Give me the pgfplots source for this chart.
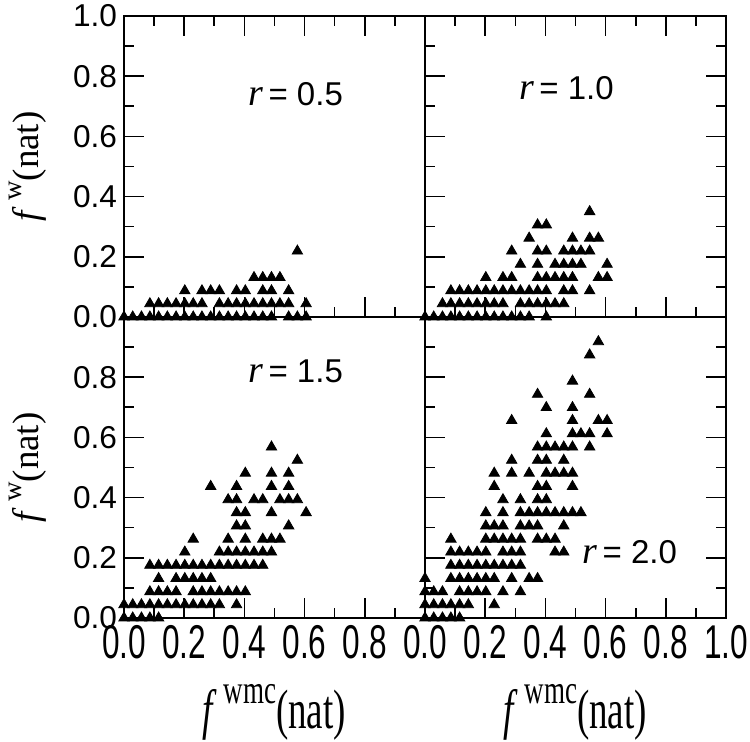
\documentclass[border=0pt]{standalone}
\usepackage{fontspec}
\setmainfont{Liberation Sans}
\newfontfamily\serif{Liberation Serif}
\usepackage{graphicx}
\usepackage{pgfplots}
\pgfplotsset{compat=1.18}
\usepgfplotslibrary{groupplots}
\newcommand\sx[1]{\scalebox{1}[1.5]{#1}}
\newcommand\rlab[1]{{\serif\itshape\fontsize{19}{19}\selectfont r}\ {\fontsize{16.5}{17}\selectfont = #1}}
\newcommand\ylab{{\serif\fontsize{18.5}{18.5}\selectfont\textit{f}\,\raisebox{0.45em}{\fontsize{13.5}{13.5}\selectfont w}(nat)}}
\newcommand\xlab{{\serif\fontsize{18.5}{18.5}\selectfont\textit{f}\,\raisebox{0.45em}{\fontsize{13.5}{13.5}\selectfont wmc}(nat)}}
\pgfplotsset{pts/.style={only marks, mark=triangle*, mark size=3pt, color=black, mark options={fill=black, draw=black, solid}}}
\begin{document}
\begin{tikzpicture}
\begin{groupplot}[
  group style={group size=2 by 2, horizontal sep=0pt, vertical sep=0pt},
  width=150.5pt, height=150.5pt, scale only axis,
  xmin=0, xmax=1, ymin=0, ymax=1,
  xtick={0,0.2,0.4,0.6,0.8,1}, ytick={0,0.2,0.4,0.6,0.8,1},
  minor tick num=1, tick align=inside,
  major tick length=10pt, minor tick length=5pt,
  axis line style={line width=0.8pt},
  every tick/.style={line width=0.8pt, black},
  tick label style={font=\fontsize{15.8}{16}\selectfont},
  clip=false,
]
% r = 0.5
\nextgroupplot[xtick pos=both, ytick pos=left, xticklabels={}, yticklabels={0.0,0.2,0.4,0.6,0.8,1.0}]
\addplot[pts] coordinates {
(0,0)(.029,0)(.058,0)(.086,0)(.115,0)(.144,0)(.173,0)(.202,0)(.230,0)(.259,0)(.288,0)(.317,0)(.346,0)(.374,0)(.403,0)(.432,0)(.461,0)(.490,0)(.547,0)(.576,0)(.605,0)
(.086,.044)(.115,.044)(.144,.044)(.173,.044)(.202,.044)(.230,.044)(.259,.044)(.317,.044)(.346,.044)(.374,.044)(.403,.044)(.432,.044)(.461,.044)(.490,.044)(.518,.044)(.547,.044)(.605,.044)
(.202,.087)(.259,.087)(.288,.087)(.317,.087)(.374,.087)(.403,.087)(.461,.087)(.490,.087)(.547,.087)
(.432,.131)(.461,.131)(.490,.131)(.518,.131)
(.576,.219)
};
\node at (axis cs:0.57,0.74) {\rlab{0.5}};
% r = 1.0
\nextgroupplot[xtick pos=both, ytick pos=both, xticklabels={}, yticklabels={}]
\addplot[pts] coordinates {
(0,0)(.029,0)(.058,0)(.086,0)(.115,0)(.144,0)(.173,0)(.202,0)(.230,0)(.259,0)(.288,0)(.317,0)(.346,0)(.403,0)
(.058,.044)(.086,.044)(.115,.044)(.144,.044)(.173,.044)(.202,.044)(.230,.044)(.259,.044)(.317,.044)(.346,.044)(.374,.044)(.403,.044)(.432,.044)(.461,.044)
(.086,.087)(.115,.087)(.144,.087)(.173,.087)(.202,.087)(.230,.087)(.259,.087)(.288,.087)(.317,.087)(.346,.087)(.374,.087)(.403,.087)(.461,.087)(.490,.087)(.547,.087)
(.202,.131)(.259,.131)(.288,.131)(.374,.131)(.403,.131)(.432,.131)(.461,.131)(.490,.131)(.576,.131)(.605,.131)
(.317,.175)(.374,.175)(.432,.175)(.461,.175)(.490,.175)(.518,.175)(.605,.175)
(.288,.219)(.374,.219)(.403,.219)(.461,.219)(.490,.219)(.518,.219)(.547,.219)
(.346,.262)(.490,.262)(.547,.262)(.576,.262)
(.374,.306)(.403,.306)
(.547,.350)
};
\node at (axis cs:0.47,0.76) {\rlab{1.0}};
% r = 1.5
\nextgroupplot[xtick pos=left, ytick pos=left, xticklabels={\sx{0.0},\sx{0.2},\sx{0.4},\sx{0.6},\sx{0.8},{}}, yticklabels={0.0,0.2,0.4,0.6,0.8,{}}]
\addplot[pts] coordinates {
(0,0)(.029,0)(.058,0)(.086,0)(.115,0)
(0,.044)(.029,.044)(.058,.044)(.086,.044)(.115,.044)(.144,.044)(.173,.044)(.202,.044)(.230,.044)(.259,.044)(.288,.044)(.317,.044)(.374,.044)
(.086,.087)(.115,.087)(.144,.087)(.173,.087)(.230,.087)(.259,.087)(.288,.087)(.317,.087)(.346,.087)(.374,.087)(.403,.087)
(.115,.131)(.173,.131)(.202,.131)(.230,.131)(.259,.131)(.288,.131)
(.086,.175)(.115,.175)(.144,.175)(.173,.175)(.202,.175)(.230,.175)(.259,.175)(.288,.175)(.317,.175)(.346,.175)(.374,.175)(.403,.175)(.432,.175)(.461,.175)
(.202,.219)(.317,.219)(.346,.219)(.374,.219)(.403,.219)(.432,.219)(.461,.219)(.490,.219)
(.230,.262)(.346,.262)(.403,.262)(.461,.262)(.490,.262)(.518,.262)
(.374,.306)(.403,.306)(.547,.306)
(.374,.350)(.403,.350)(.490,.350)(.605,.350)
(.346,.393)(.374,.393)(.432,.393)(.461,.393)(.518,.393)(.547,.393)(.576,.393)
(.288,.437)(.374,.437)(.490,.437)(.547,.437)
(.403,.481)(.490,.481)(.547,.481)
(.576,.524)
(.490,.568)
};
\node at (axis cs:0.57,0.82) {\rlab{1.5}};
% r = 2.0
\nextgroupplot[xtick pos=left, ytick pos=both, xticklabels={\sx{0.0},\sx{0.2},\sx{0.4},\sx{0.6},\sx{0.8},\sx{1.0}}, yticklabels={}]
\addplot[pts] coordinates {
(0,0)(.029,0)(.058,0)(.086,0)(.115,0)
(0,.044)(.029,.044)(.058,.044)(.086,.044)(.115,.044)(.144,.044)(.230,.044)
(0,.087)(.029,.087)(.058,.087)(.115,.087)(.144,.087)(.173,.087)(.202,.087)(.259,.087)(.317,.087)
(0,.131)(.086,.131)(.115,.131)(.144,.131)(.173,.131)(.202,.131)(.230,.131)(.288,.131)(.346,.131)(.374,.131)
(.086,.175)(.115,.175)(.144,.175)(.173,.175)(.202,.175)(.230,.175)(.259,.175)(.288,.175)(.317,.175)
(.086,.219)(.115,.219)(.144,.219)(.173,.219)(.202,.219)(.259,.219)(.288,.219)(.317,.219)(.432,.219)(.461,.219)
(.086,.262)(.202,.262)(.230,.262)(.259,.262)(.288,.262)(.317,.262)(.374,.262)(.403,.262)(.432,.262)
(.202,.306)(.230,.306)(.259,.306)(.317,.306)(.346,.306)(.374,.306)(.461,.306)
(.202,.350)(.259,.350)(.317,.350)(.346,.350)(.374,.350)(.403,.350)(.432,.350)(.461,.350)(.490,.350)(.518,.350)
(.259,.393)(.317,.393)(.374,.393)(.403,.393)
(.230,.437)(.374,.437)(.403,.437)(.490,.437)
(.230,.481)(.288,.481)(.346,.481)(.403,.481)(.432,.481)(.461,.481)(.490,.481)
(.288,.524)(.374,.524)(.403,.524)(.461,.524)
(.374,.568)(.403,.568)(.432,.568)(.461,.568)(.490,.568)(.547,.568)
(.403,.612)(.490,.612)(.518,.612)(.547,.612)(.605,.612)
(.288,.656)(.490,.656)(.576,.656)(.605,.656)
(.403,.699)(.490,.699)
(.374,.743)(.547,.743)
(.490,.787)
(.547,.874)
(.576,.918)
};
\node at (axis cs:0.68,0.22) {\rlab{2.0}};
\end{groupplot}
\node[rotate=90] at ([xshift=-48pt]group c1r1.west) {\ylab};
\node[rotate=90] at ([xshift=-48pt]group c1r2.west) {\ylab};
\node at ([yshift=-47pt]group c1r2.south) {\scalebox{1}[1.5]{\xlab}};
\node at ([yshift=-47pt]group c2r2.south) {\scalebox{1}[1.5]{\xlab}};
\pgfresetboundingbox
\path[use as bounding box] ([xshift=-62pt,yshift=8pt]group c1r1.north west) rectangle ([xshift=313pt,yshift=-363pt]group c1r1.north west);
\end{tikzpicture}
\end{document}
